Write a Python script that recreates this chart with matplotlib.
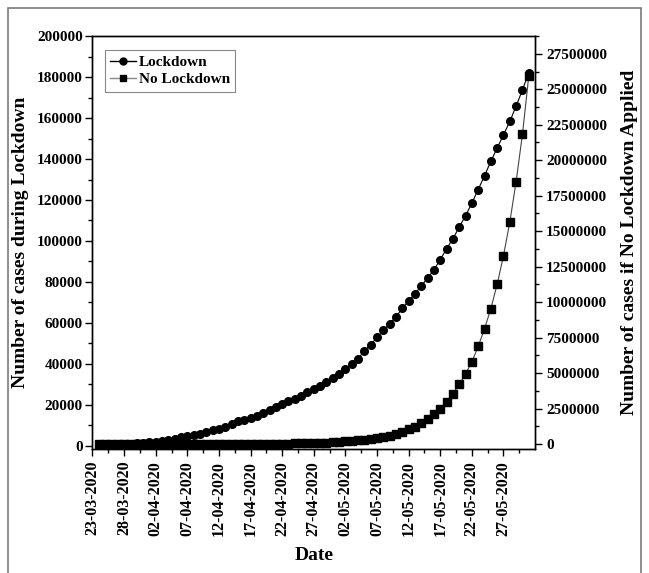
# Lockdown vs no-lockdown case counts, twin y axes
import numpy as np
import pandas as pd
import matplotlib
matplotlib.use("Agg")
import matplotlib.pyplot as plt
from matplotlib.lines import Line2D
from matplotlib.patches import Rectangle
from matplotlib.ticker import FuncFormatter

# ── Data ─────────────────────────────────────────────────────────────────────
dates = pd.date_range("2020-03-24", "2020-05-31", freq="D")

lockdown = [
    536, 657, 727, 887, 987, 1024, 1251, 1397,
    1834, 2069, 2547, 3072, 3577, 4281, 4789, 5274, 5865, 6761,
    7529, 8447, 9352, 10815, 11933, 12759, 13835, 14792, 16116, 17656,
    18985, 20471, 21700, 23077, 24506, 26496, 27892, 29435, 31332, 33050,
    35043, 37336, 39980, 42533, 46433, 49391, 52952, 56342, 59662, 62939,
    67152, 70756, 74281, 78003, 81970, 85940, 90927, 96169, 101139, 106750,
    112359, 118447, 125101, 131868, 138845, 145380, 151767, 158333, 165799,
    173763, 182143,
]

no_lockdown = [
    300, 350, 420, 490, 580, 680, 800, 950,
    1100, 1300, 1500, 1800, 2100, 2500, 2900, 3500, 4100, 4800,
    5700, 6700, 7900, 9300, 11000, 13000, 15000, 18000, 21000, 25000,
    30000, 35000, 42000, 49000, 58000, 69000, 81000, 96000, 113000, 134000,
    158000, 186000, 219000, 258000, 305000, 360000, 425000, 500000, 590000,
    700000, 860000, 1030000, 1210000, 1470000, 1750000, 2110000, 2500000,
    2990000, 3560000, 4200000, 4950000, 5800000, 6880000, 8120000, 9540000,
    11260000, 13270000, 15640000, 18500000, 21830000, 25950000,
]

major_dates = pd.date_range("2020-03-23", "2020-05-27", freq="5D")
minor_dates = major_dates + pd.Timedelta(hours=60)

left_ticks = np.arange(0, 200001, 20000)
right_ticks = np.arange(0, 27500001, 2500000)

# ── Style ────────────────────────────────────────────────────────────────────
plt.rcParams["font.family"] = ["Liberation Serif", "DejaVu Serif"]
plt.rcParams["font.weight"] = "bold"
plt.rcParams["axes.labelweight"] = "bold"

plain = FuncFormatter(lambda v, _: f"{int(round(v))}")

fig = plt.figure(figsize=(6.49, 5.73), dpi=100)
fig.patches.append(Rectangle((8 / 649, -0.01), 633 / 649, 1.01 - 8 / 573,
                             transform=fig.transFigure, fill=False,
                             edgecolor="#7a7a7a", linewidth=1.2))

ax = fig.add_axes([0.1425, 0.2164, 0.682, 0.7207])
ax2 = ax.twinx()

ax.plot(dates, lockdown, "-", color="black", linewidth=0.8,
        marker="o", markersize=5.5, label="Lockdown")
ax2.plot(dates, no_lockdown, "-", color="#444444", linewidth=0.8,
         marker="s", markersize=6, markerfacecolor="black",
         markeredgecolor="black", label="No Lockdown")

ax.set_xlim(pd.Timestamp("2020-03-23"), pd.Timestamp("2020-06-01"))
ax.set_ylim(-1500, 200000)
ax2.set_ylim(-345000, 28120000)

ax.set_xticks(major_dates)
ax.set_xticklabels([d.strftime("%d-%m-%Y") for d in major_dates],
                   rotation=90, fontsize=11.5, fontweight="bold")
ax.set_xticks(minor_dates, minor=True)

ax.set_yticks(left_ticks)
ax.set_yticks(left_ticks[:-1] + 10000, minor=True)
ax.yaxis.set_major_formatter(plain)
ax2.set_yticks(right_ticks)
ax2.set_yticks(right_ticks + 1250000, minor=True)
ax2.yaxis.set_major_formatter(plain)

for a in (ax, ax2):
    a.tick_params(which="major", direction="out", length=5, width=1)
    a.tick_params(which="minor", direction="out", length=3, width=1)
    a.tick_params(axis="y", labelsize=11)
    for s in a.spines.values():
        s.set_linewidth(1.0)
ax.tick_params(axis="y", pad=2)
ax2.tick_params(axis="y", pad=3)

ax.set_xlabel("Date", fontsize=14, labelpad=8)
ax.set_ylabel("Number of cases during Lockdown", fontsize=14, labelpad=6)
ax2.set_ylabel("Number of cases if No Lockdown Applied", fontsize=14, labelpad=10)

# legend: line-marker-line style
handles = [
    Line2D([], [], color="black", linewidth=1, marker="o", markersize=5),
    Line2D([], [], color="#888888", linewidth=1, marker="s", markersize=5,
           markerfacecolor="black", markeredgecolor="black"),
]
leg = ax2.legend(handles, ["Lockdown", "No Lockdown"], loc="upper left",
                 bbox_to_anchor=(0.01, 0.985), fancybox=False, framealpha=1,
                 edgecolor="#888888", prop={"size": 11, "weight": "bold"},
                 handlelength=1.7, handletextpad=0.2, borderpad=0.35,
                 labelspacing=0.25, numpoints=1)
leg.get_frame().set_linewidth(0.8)

plt.savefig("out.png", dpi=100)
